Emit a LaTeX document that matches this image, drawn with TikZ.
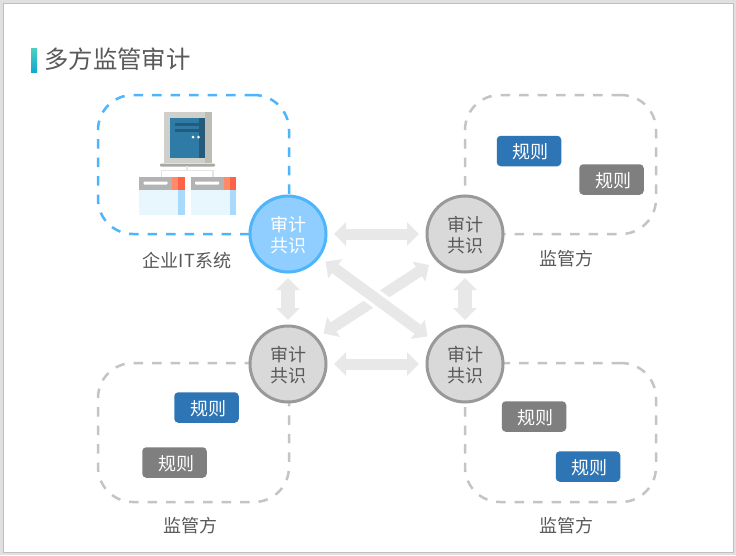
\documentclass[tikz,border=0pt]{standalone}
\usepackage{fontspec}
\setmainfont{Noto Sans CJK SC}
\usetikzlibrary{arrows.meta,calc}
\definecolor{txt}{HTML}{595959}
\definecolor{cyanline}{HTML}{4DB5FB}
\definecolor{greyline}{HTML}{C4C4C4}
\definecolor{arrowgrey}{HTML}{E8E8E8}
\definecolor{ruleblue}{HTML}{2E75B6}
\definecolor{rulegrey}{HTML}{7F7F7F}
\definecolor{hubblue}{HTML}{8FCEFF}
\definecolor{hubgrey}{HTML}{D9D9D9}
\definecolor{hubline}{HTML}{999999}
\definecolor{screen}{HTML}{2E7CA6}
\definecolor{screendark}{HTML}{255A7A}
\definecolor{panel}{HTML}{E8F6FE}
\definecolor{panelstrip}{HTML}{AADAFB}
\definecolor{redlight}{HTML}{FF8A6A}
\definecolor{redstrong}{HTML}{FF6347}
\definecolor{casing}{HTML}{CFCFCB}
\definecolor{casingdark}{HTML}{BDBDB6}
\definecolor{panelhead}{HTML}{B3B3B3}
\definecolor{barbase}{HTML}{A8A8A4}
\definecolor{bartop}{HTML}{4DD0C0}
\definecolor{barbottom}{HTML}{12A8D0}
\newcommand{\hubtext}{\raisebox{-1.2pt}[\height][\depth]{审计}\\\raisebox{-1.2pt}[\height][\depth]{共识}}
\newcommand{\ruletext}{\hspace*{3pt}\raisebox{-1.2pt}[\height][\depth]{规则}}
\tikzset{
  zone/.style={minimum width=191pt,minimum height=139pt,rounded corners=35pt,inner sep=0,outer sep=0,line width=2.5pt,dash pattern=on 9.5pt off 9pt},
  greyzone/.style={zone,draw=greyline},
  bluezone/.style={zone,draw=cyanline},
  hub/.style={circle,minimum size=76pt,inner sep=0,outer sep=0,line width=3pt,font=\fontsize{18pt}{20.5pt}\selectfont,align=center},
  greyhub/.style={hub,draw=hubline,fill=hubgrey,text=txt},
  bluehub/.style={hub,draw=cyanline,fill=hubblue,text=white},
  rule/.style={rounded corners=4pt,minimum width=64.5pt,minimum height=30.5pt,inner sep=0,text=white,font=\fontsize{18pt}{18pt}\selectfont},
  blue rule/.style={rule,fill=ruleblue},
  grey rule/.style={rule,fill=rulegrey},
  lab/.style={text=txt,inner sep=0,font=\fontsize{18pt}{18pt}\selectfont},
  dbl/.style={draw=arrowgrey,line width=11pt,{Triangle[length=12pt,width=23pt]}-{Triangle[length=12pt,width=23pt]},shorten >=#1,shorten <=#1},
}
\begin{document}
\begin{tikzpicture}[x=1pt,y=-1pt]
\useasboundingbox (0,0) rectangle (736,555);
\fill[black!12] (0,0) rectangle (736,555);
\draw[fill=white,draw=black!25,line width=.7pt] (3.5,3.5) rectangle (733,552);
% title
\shade[top color=bartop,bottom color=barbottom] (31,48) rectangle (37,72);
\node[anchor=west,inner sep=0,text=txt,font=\fontsize{24.4pt}{24pt}\selectfont] (title) at (44,59.5) {多方监管审计};
% zones
\node[bluezone] (zoneA) at (193.5,164.5) {};
\node[greyzone] (zoneB) at (560.5,164.5) {};
\node[greyzone] (zoneC) at (193.5,432.5) {};
\node[greyzone] (zoneD) at (560.5,432.5) {};
% server icon
\fill[casing] (163.7,112) rectangle (205,163);
\fill[casingdark] (205,112) rectangle (211.7,163);
\fill[screen] (170,118) rectangle (199,158);
\fill[screendark] (199,118) rectangle (205,158);
\fill[screendark] (175,123) rectangle (199,125.5);
\fill[screendark] (175,129) rectangle (199,131.5);
\fill[white] (193,137) circle (1.5);
\fill[white] (198.5,137) circle (1.5);
\fill[rounded corners=1pt,barbase] (160,163.5) rectangle (215,166.5);
\draw[black!10,line width=1.5pt] (187,166) -- (187,170) (161.5,177) -- (161.5,170.5) -- (213,170.5) -- (213,177);
\foreach \x in {139,190.6}{
  \fill[panel] (\x,190) rectangle ++(45.5,25);
  \fill[panelstrip] (\x+39,190) rectangle ++(6.5,25);
  \fill[panelhead] (\x,177) rectangle ++(33,13);
  \fill[redlight] (\x+33,177) rectangle ++(6,13);
  \fill[redstrong] (\x+39,177) rectangle ++(6.5,13);
  \fill[white,rounded corners=.8pt] (\x+4.5,181.5) rectangle ++(24,3);
}
% hubs
\node[bluehub] (c1) at (288,234) {\hubtext};
\node[greyhub] (c2) at (465,234) {\hubtext};
\node[greyhub] (c3) at (288,364) {\hubtext};
\node[greyhub] (c4) at (465,364) {\hubtext};
\coordinate (d1) at (323.5,333.5);
\coordinate (d2) at (429,265);
% connectors
\draw[dbl=8pt] (c1) -- (c2);
\draw[dbl=8pt] (c3) -- (c4);
\draw[dbl=6pt,line width=14pt] (c1) -- (c3);
\draw[dbl=6pt,line width=14pt] (c2) -- (c4);
\draw[dbl=0pt] (d1) -- (d2);
\draw[white,line width=18pt] ($(c1)!.42!(c4)$) -- ($(c1)!.58!(c4)$);
\draw[dbl=8.6pt] (c1) -- (c4);
% rule badges
\node[blue rule] (r1) at (529,151) {\ruletext};
\node[grey rule] (r2) at (611.5,179.5) {\ruletext};
\node[blue rule] (r3) at (206.5,407.5) {\ruletext};
\node[grey rule] (r4) at (174.5,462.5) {\ruletext};
\node[grey rule] (r5) at (534,416.5) {\ruletext};
\node[blue rule] (r6) at (588,466.5) {\ruletext};
% labels
\node[lab] (l1) at (187,261) {企业IT系统};
\node[lab] (l2) at (566,259) {监管方};
\node[lab] (l3) at (190,526) {监管方};
\node[lab] (l4) at (566,526) {监管方};
\end{tikzpicture}
\end{document}
